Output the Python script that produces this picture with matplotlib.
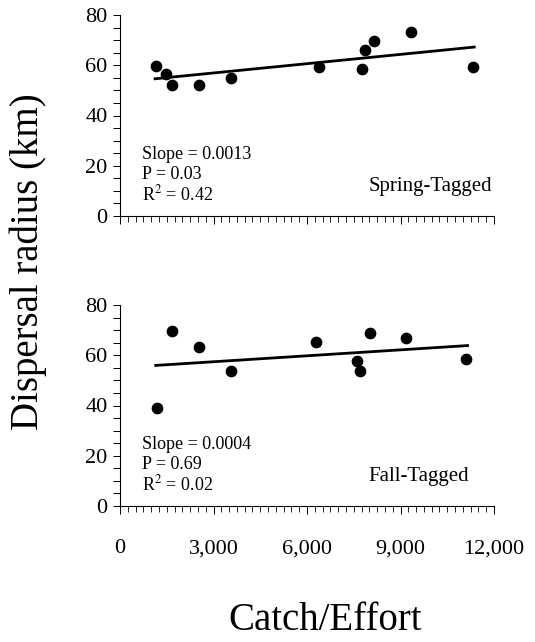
import matplotlib
matplotlib.use('Agg')
import matplotlib.pyplot as plt
import numpy as np
from matplotlib.ticker import MultipleLocator, FuncFormatter

plt.rcParams['font.family'] = ['Liberation Serif', 'DejaVu Serif']
plt.rcParams['mathtext.fontset'] = 'stix'

# spring-tagged fish
spring_x = [1155, 1476, 1668, 2545, 3562, 6396, 7755, 7861, 8160, 9327, 11316]
spring_y = [59.7, 56.4, 52.3, 52.3, 54.8, 59.2, 58.4, 65.9, 69.5, 73.3, 59.2]
spring_stats = ['Slope = 0.0013', 'P = 0.03', 'R$^2$ = 0.42']

# fall-tagged fish
fall_x = [1177, 1678, 2525, 3551, 6289, 7594, 7701, 8032, 9166, 11101]
fall_y = [38.9, 69.8, 63.2, 53.7, 65.4, 57.7, 53.7, 69.0, 67.0, 58.5]
fall_stats = ['Slope = 0.0004', 'P = 0.69', 'R$^2$ = 0.02']

W, H = 535, 642
fig = plt.figure(figsize=(W / 100, H / 100), dpi=100)
ax1 = fig.add_axes([120 / W, 1 - 216 / H, 374 / W, 201 / H])
ax2 = fig.add_axes([120 / W, 1 - 506 / H, 374 / W, 201 / H])

panels = [(ax1, spring_x, spring_y, spring_stats, 'Spring-Tagged'),
          (ax2, fall_x, fall_y, fall_stats, 'Fall-Tagged')]

for ax, xs, ys, stats, name in panels:
    xs = np.array(xs)
    ys = np.array(ys)
    ax.scatter(xs, ys, s=55, color='black', zorder=3, clip_on=False)
    b, a = np.polyfit(xs, ys, 1)
    xl = np.array([xs.min() - 30, xs.max() + 50])
    ax.plot(xl, a + b * xl, color='black', lw=2.0)

    ax.set_xlim(0, 12000)
    ax.set_ylim(0, 80)
    ax.spines['top'].set_visible(False)
    ax.spines['right'].set_visible(False)
    ax.spines['left'].set_linewidth(0.8)
    ax.spines['bottom'].set_linewidth(0.8)
    ax.yaxis.set_major_locator(MultipleLocator(20))
    ax.yaxis.set_minor_locator(MultipleLocator(5))
    ax.xaxis.set_major_locator(MultipleLocator(3000))
    ax.xaxis.set_minor_locator(MultipleLocator(250))
    ax.tick_params(axis='y', which='both', direction='out', length=5, width=0.7,
                   labelsize=16, pad=4)
    ax.tick_params(axis='x', which='major', direction='out', length=6, width=0.7,
                   labelsize=16, pad=18)
    ax.tick_params(axis='x', which='minor', direction='out', length=4, width=0.6)
    ax.xaxis.set_major_formatter(FuncFormatter(lambda v, p: f'{int(v):,}'))

    for i, s in enumerate(stats):
        ax.text(0.058, 0.305 - i * 0.1, s, transform=ax.transAxes,
                fontsize=13, va='center', ha='left')
    ax.text(0.665, 0.145, name, transform=ax.transAxes, fontsize=15,
            va='center', ha='left')

ax1.tick_params(axis='x', labelbottom=False)

fig.text(28 / W, 1 - 262 / H, 'Dispersal radius (km)', rotation=90,
         fontsize=28, ha='center', va='center')
fig.text(325 / W, 1 - 620 / H, 'Catch/Effort', fontsize=28,
         ha='center', va='center')

fig.savefig('out.png', dpi=100)
